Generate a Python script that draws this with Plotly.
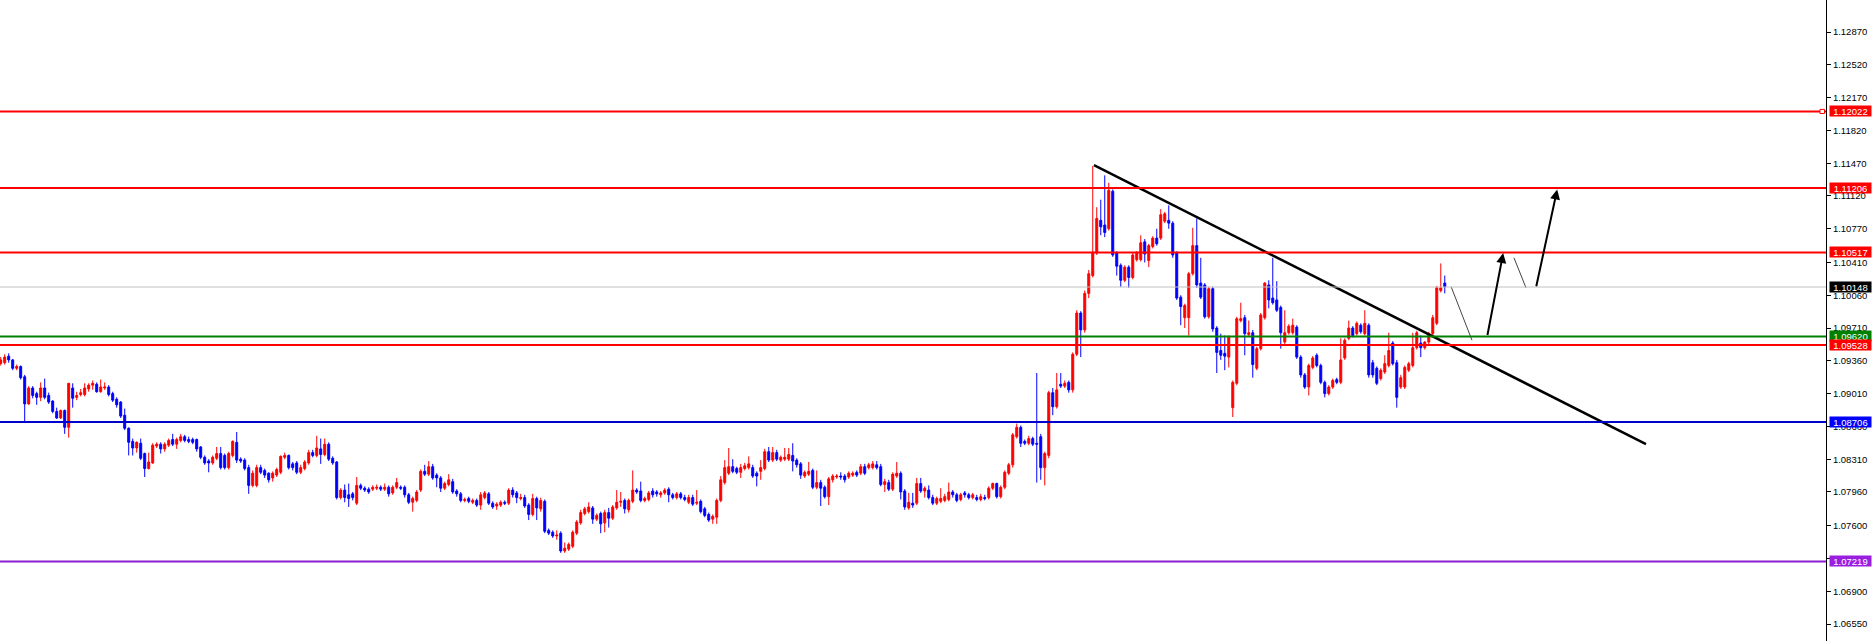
import plotly.graph_objects as go

# ---------------- candle data (EUR/USD style) ----------------
opens = [
1.0933,1.0934,1.0941,1.0937,1.0928,1.0930,1.0919,1.0890,1.0907,1.0901,
1.0897,1.0907,1.0899,1.0893,1.0882,1.0875,1.0883,1.0865,1.0907,1.0897,
1.0900,1.0900,1.0906,1.0910,1.0911,1.0903,1.0907,1.0908,1.0901,1.0895,
1.0892,1.0878,1.0864,1.0850,1.0843,1.0848,1.0837,1.0821,1.0827,1.0845,
1.0847,1.0842,1.0846,1.0852,1.0847,1.0851,1.0855,1.0852,1.0852,1.0852,
1.0844,1.0833,1.0829,1.0827,1.0832,1.0837,1.0835,1.0822,1.0835,1.0849,
1.0831,1.0830,1.0822,1.0803,1.0803,1.0822,1.0819,1.0816,1.0811,1.0814,
1.0817,1.0833,1.0835,1.0826,1.0827,1.0817,1.0821,1.0827,1.0838,1.0835,
1.0842,1.0836,1.0847,1.0832,1.0828,1.0790,1.0798,1.0793,1.0794,1.0784,
1.0803,1.0800,1.0799,1.0799,1.0800,1.0801,1.0799,1.0801,1.0795,1.0801,
1.0801,1.0801,1.0793,1.0785,1.0787,1.0798,1.0818,1.0815,1.0823,1.0814,
1.0811,1.0800,1.0804,1.0807,1.0797,1.0794,1.0787,1.0789,1.0785,1.0787,
1.0782,1.0790,1.0794,1.0784,1.0781,1.0782,1.0785,1.0784,1.0798,1.0795,
1.0789,1.0790,1.0782,1.0772,1.0789,1.0778,1.0786,1.0755,1.0753,1.0749,
1.0752,1.0733,1.0735,1.0738,1.0752,1.0763,1.0773,1.0775,1.0779,1.0767,
1.0773,1.0763,1.0774,1.0768,1.0779,1.0785,1.0787,1.0777,1.0786,1.0798,
1.0797,1.0787,1.0788,1.0797,1.0796,1.0793,1.0795,1.0799,1.0793,1.0790,
1.0794,1.0790,1.0785,1.0790,1.0784,1.0786,1.0778,1.0772,1.0767,1.0769,
1.0787,1.0806,1.0816,1.0823,1.0821,1.0817,1.0821,1.0822,1.0822,1.0816,
1.0818,1.0821,1.0839,1.0830,1.0838,1.0830,1.0831,1.0831,1.0835,1.0830,
1.0826,1.0813,1.0815,1.0819,1.0801,1.0806,1.0801,1.0791,1.0809,1.0812,
1.0813,1.0813,1.0812,1.0814,1.0817,1.0816,1.0823,1.0822,1.0822,1.0825,
1.0823,1.0804,1.0806,1.0799,1.0813,1.0816,1.0797,1.0779,1.0784,1.0784,
1.0805,1.0797,1.0798,1.0790,1.0784,1.0786,1.0787,1.0788,1.0796,1.0793,
1.0788,1.0795,1.0793,1.0790,1.0790,1.0788,1.0790,1.0790,1.0800,1.0805,
1.0791,1.0801,1.0816,1.0825,1.0855,1.0865,1.0850,1.0848,1.0853,1.0848,
1.0855,1.0822,1.0835,1.0902,1.0887,1.0911,1.0909,1.0913,1.0905,1.0943,
1.0987,1.0969,1.1008,1.1027,1.1051,1.1086,1.1081,1.1077,1.1117,1.1051,
1.1038,1.1022,1.1036,1.1025,1.1044,1.1044,1.1063,1.1043,1.1058,1.1067,
1.1067,1.1085,1.1086,1.1083,1.1051,1.1004,1.0982,1.0982,1.1029,1.1059,
1.1019,1.1017,1.0983,1.1013,1.0971,1.0947,1.0944,1.0940,1.0886,1.0912,
1.0979,1.0982,1.0964,1.0966,1.0928,1.0949,1.0982,1.1017,1.1003,1.1001,
1.0993,1.0956,1.0966,1.0966,1.0972,1.0940,1.0921,1.0908,1.0929,1.0942,
1.0931,1.0913,1.0901,1.0908,1.0916,1.0913,1.0939,1.0960,1.0971,1.0965,
1.0974,1.0965,1.0974,1.0934,1.0928,1.0917,1.0924,1.0931,1.0955,1.0934,
1.0908,1.0908,1.0926,1.0931,1.0950,1.0955,1.0950,1.0956,1.0965,1.0976,
1.1011,1.1019]

highs = [
1.0940,1.0943,1.0944,1.0938,1.0932,1.0931,1.0921,1.0909,1.0909,1.0903,
1.0913,1.0917,1.0902,1.0894,1.0886,1.0884,1.0884,1.0912,1.0912,1.0903,
1.0906,1.0912,1.0912,1.0915,1.0913,1.0916,1.0913,1.0910,1.0903,1.0897,
1.0893,1.0885,1.0865,1.0853,1.0850,1.0853,1.0838,1.0838,1.0848,1.0849,
1.0849,1.0849,1.0853,1.0858,1.0854,1.0858,1.0857,1.0855,1.0854,1.0853,
1.0845,1.0835,1.0831,1.0835,1.0844,1.0844,1.0837,1.0839,1.0851,1.0860,
1.0833,1.0832,1.0825,1.0819,1.0825,1.0825,1.0821,1.0817,1.0818,1.0822,
1.0835,1.0838,1.0836,1.0828,1.0829,1.0825,1.0830,1.0841,1.0841,1.0856,
1.0853,1.0853,1.0849,1.0834,1.0829,1.0800,1.0804,1.0805,1.0796,1.0812,
1.0805,1.0802,1.0801,1.0803,1.0804,1.0803,1.0805,1.0803,1.0803,1.0811,
1.0803,1.0803,1.0795,1.0791,1.0798,1.0820,1.0825,1.0829,1.0826,1.0816,
1.0813,1.0807,1.0815,1.0810,1.0799,1.0796,1.0790,1.0791,1.0789,1.0789,
1.0796,1.0797,1.0796,1.0786,1.0785,1.0787,1.0787,1.0800,1.0801,1.0797,
1.0794,1.0793,1.0784,1.0794,1.0791,1.0790,1.0788,1.0757,1.0755,1.0755,
1.0754,1.0742,1.0742,1.0755,1.0766,1.0777,1.0780,1.0785,1.0781,1.0773,
1.0775,1.0777,1.0779,1.0782,1.0798,1.0796,1.0789,1.0789,1.0819,1.0800,
1.0807,1.0791,1.0797,1.0800,1.0798,1.0797,1.0800,1.0801,1.0795,1.0796,
1.0796,1.0793,1.0793,1.0793,1.0798,1.0788,1.0780,1.0774,1.0772,1.0789,
1.0813,1.0830,1.0843,1.0831,1.0823,1.0826,1.0827,1.0834,1.0825,1.0818,
1.0830,1.0842,1.0844,1.0844,1.0841,1.0835,1.0843,1.0843,1.0848,1.0832,
1.0828,1.0819,1.0828,1.0821,1.0819,1.0809,1.0803,1.0812,1.0815,1.0815,
1.0817,1.0815,1.0818,1.0818,1.0819,1.0826,1.0826,1.0827,1.0829,1.0829,
1.0826,1.0810,1.0809,1.0817,1.0828,1.0818,1.0799,1.0795,1.0795,1.0811,
1.0811,1.0802,1.0803,1.0793,1.0791,1.0800,1.0794,1.0806,1.0798,1.0795,
1.0795,1.0797,1.0795,1.0795,1.0793,1.0794,1.0793,1.0802,1.0806,1.0806,
1.0803,1.0819,1.0827,1.0859,1.0869,1.0867,1.0852,1.0856,1.0855,1.0923,
1.0858,1.0839,1.0904,1.0907,1.0923,1.0923,1.0915,1.0915,1.0945,1.0990,
1.0989,1.1011,1.1033,1.1144,1.1100,1.1108,1.1134,1.1126,1.1119,1.1053,
1.1040,1.1038,1.1038,1.1051,1.1053,1.1070,1.1066,1.1061,1.1069,1.1077,
1.1098,1.1095,1.1102,1.1085,1.1053,1.1006,1.0997,1.1031,1.1078,1.1088,
1.1046,1.1019,1.1015,1.1015,1.0973,1.0965,1.0963,1.0963,1.0915,1.0983,
1.0998,1.0985,1.0979,1.0969,1.0951,1.0987,1.1020,1.1022,1.1046,1.1021,
1.0995,1.0990,1.0975,1.0981,1.0974,1.0942,1.0923,1.0933,1.0941,1.0944,
1.0933,1.0915,1.0910,1.0917,1.0918,1.0960,1.0960,1.0979,1.0973,1.0978,
1.0976,1.0990,1.0976,1.0937,1.0930,1.0928,1.0942,1.0966,1.0957,1.0937,
1.0921,1.0931,1.0935,1.0966,1.0968,1.0963,1.0957,1.0967,1.0985,1.1016,
1.1040,1.1027]

lows = [
1.0931,1.0932,1.0934,1.0926,1.0926,1.0916,1.0870,1.0889,1.0896,1.0889,
1.0893,1.0895,1.0890,1.0880,1.0874,1.0874,1.0858,1.0854,1.0886,1.0894,
1.0898,1.0898,1.0903,1.0905,1.0902,1.0902,1.0905,1.0898,1.0892,1.0886,
1.0875,1.0862,1.0835,1.0835,1.0838,1.0830,1.0812,1.0820,1.0826,1.0843,
1.0837,1.0839,1.0844,1.0845,1.0842,1.0849,1.0849,1.0848,1.0847,1.0839,
1.0831,1.0825,1.0817,1.0825,1.0830,1.0820,1.0820,1.0820,1.0833,1.0827,
1.0827,1.0819,1.0794,1.0801,1.0801,1.0815,1.0811,1.0806,1.0807,1.0812,
1.0815,1.0831,1.0820,1.0819,1.0815,1.0815,1.0819,1.0825,1.0833,1.0833,
1.0826,1.0834,1.0829,1.0825,1.0788,1.0788,1.0785,1.0780,1.0787,1.0782,
1.0798,1.0796,1.0794,1.0797,1.0798,1.0797,1.0797,1.0791,1.0793,1.0799,
1.0798,1.0790,1.0783,1.0775,1.0785,1.0796,1.0813,1.0813,1.0809,1.0801,
1.0796,1.0798,1.0802,1.0794,1.0791,1.0785,1.0785,1.0784,1.0783,1.0780,
1.0777,1.0788,1.0782,1.0778,1.0777,1.0780,1.0782,1.0782,1.0790,1.0784,
1.0787,1.0779,1.0766,1.0770,1.0766,1.0775,1.0752,1.0750,1.0747,1.0745,
1.0731,1.0731,1.0733,1.0736,1.0750,1.0761,1.0771,1.0773,1.0762,1.0765,
1.0752,1.0753,1.0758,1.0766,1.0777,1.0780,1.0773,1.0774,1.0784,1.0794,
1.0785,1.0785,1.0786,1.0790,1.0791,1.0790,1.0793,1.0785,1.0788,1.0788,
1.0788,1.0786,1.0783,1.0781,1.0782,1.0773,1.0769,1.0764,1.0762,1.0762,
1.0785,1.0804,1.0814,1.0816,1.0815,1.0811,1.0819,1.0820,1.0811,1.0802,
1.0809,1.0819,1.0828,1.0828,1.0829,1.0828,1.0829,1.0829,1.0818,1.0822,
1.0810,1.0811,1.0813,1.0799,1.0799,1.0781,1.0789,1.0782,1.0806,1.0810,
1.0809,1.0806,1.0810,1.0812,1.0812,1.0814,1.0814,1.0820,1.0820,1.0820,
1.0802,1.0796,1.0797,1.0797,1.0811,1.0788,1.0777,1.0777,1.0779,1.0782,
1.0795,1.0790,1.0788,1.0782,1.0782,1.0784,1.0785,1.0786,1.0790,1.0785,
1.0786,1.0790,1.0788,1.0788,1.0786,1.0786,1.0787,1.0788,1.0798,1.0789,
1.0789,1.0799,1.0814,1.0822,1.0853,1.0844,1.0846,1.0846,1.0845,1.0806,
1.0809,1.0803,1.0832,1.0878,1.0885,1.0907,1.0907,1.0902,1.0902,1.0941,
1.0940,1.0966,1.1003,1.1025,1.1049,1.1070,1.1068,1.1075,1.1047,1.1027,
1.1015,1.1020,1.1014,1.1023,1.1042,1.1042,1.1041,1.1036,1.1056,1.1059,
1.1065,1.1083,1.1077,1.1046,1.1001,1.0974,1.0971,1.0963,1.1027,1.1014,
1.1002,1.0981,1.0981,1.0967,1.0923,1.0937,1.0926,1.0929,1.0876,1.0910,
1.0977,1.0942,1.0962,1.0918,1.0926,1.0947,1.0980,1.0992,1.0996,1.0988,
1.0949,1.0954,1.0964,1.0964,1.0938,1.0918,1.0906,1.0899,1.0927,1.0929,
1.0911,1.0897,1.0899,1.0906,1.0911,1.0911,1.0937,1.0958,1.0961,1.0963,
1.0965,1.0963,1.0918,1.0918,1.0910,1.0915,1.0922,1.0929,1.0931,1.0886,
1.0906,1.0906,1.0924,1.0929,1.0948,1.0940,1.0948,1.0954,1.0963,1.0974,
1.1009,1.1008]

closes = [
1.0937,1.0940,1.0937,1.0928,1.0930,1.0918,1.0890,1.0907,1.0899,1.0897,
1.0907,1.0897,1.0892,1.0882,1.0875,1.0883,1.0865,1.0912,1.0896,1.0899,
1.0902,1.0907,1.0910,1.0912,1.0903,1.0908,1.0908,1.0900,1.0894,1.0889,
1.0877,1.0864,1.0849,1.0843,1.0849,1.0832,1.0821,1.0828,1.0846,1.0847,
1.0842,1.0847,1.0851,1.0847,1.0852,1.0855,1.0851,1.0850,1.0849,1.0842,
1.0833,1.0827,1.0827,1.0833,1.0837,1.0822,1.0822,1.0837,1.0850,1.0830,
1.0829,1.0821,1.0803,1.0816,1.0822,1.0817,1.0814,1.0809,1.0816,1.0820,
1.0834,1.0835,1.0822,1.0822,1.0817,1.0822,1.0828,1.0838,1.0835,1.0843,
1.0836,1.0847,1.0831,1.0827,1.0790,1.0798,1.0790,1.0789,1.0790,1.0803,
1.0800,1.0798,1.0796,1.0801,1.0801,1.0799,1.0801,1.0794,1.0801,1.0806,
1.0800,1.0793,1.0785,1.0789,1.0796,1.0818,1.0815,1.0823,1.0811,1.0811,
1.0800,1.0805,1.0809,1.0796,1.0794,1.0787,1.0788,1.0786,1.0787,1.0782,
1.0793,1.0795,1.0784,1.0780,1.0783,1.0785,1.0784,1.0798,1.0793,1.0790,
1.0790,1.0781,1.0772,1.0789,1.0779,1.0787,1.0754,1.0752,1.0749,1.0750,
1.0733,1.0736,1.0740,1.0753,1.0764,1.0774,1.0778,1.0780,1.0767,1.0771,
1.0762,1.0774,1.0768,1.0780,1.0785,1.0786,1.0778,1.0787,1.0798,1.0796,
1.0787,1.0789,1.0795,1.0793,1.0794,1.0795,1.0798,1.0793,1.0790,1.0794,
1.0790,1.0788,1.0790,1.0783,1.0785,1.0775,1.0771,1.0766,1.0770,1.0787,
1.0809,1.0822,1.0823,1.0818,1.0817,1.0822,1.0824,1.0826,1.0813,1.0813,
1.0822,1.0839,1.0830,1.0838,1.0831,1.0833,1.0833,1.0836,1.0829,1.0825,
1.0814,1.0817,1.0818,1.0801,1.0806,1.0800,1.0791,1.0810,1.0813,1.0813,
1.0812,1.0809,1.0816,1.0816,1.0814,1.0823,1.0816,1.0825,1.0826,1.0822,
1.0804,1.0807,1.0799,1.0815,1.0816,1.0796,1.0780,1.0785,1.0782,1.0805,
1.0797,1.0800,1.0790,1.0784,1.0789,1.0789,1.0791,1.0796,1.0793,1.0787,
1.0793,1.0793,1.0790,1.0793,1.0788,1.0791,1.0789,1.0800,1.0805,1.0791,
1.0801,1.0817,1.0825,1.0857,1.0865,1.0848,1.0848,1.0853,1.0847,1.0847,
1.0822,1.0837,1.0902,1.0887,1.0905,1.0909,1.0912,1.0905,1.0943,1.0987,
1.0969,1.1008,1.1029,1.1052,1.1088,1.1079,1.1073,1.1118,1.1049,1.1037,
1.1022,1.1036,1.1025,1.1049,1.1051,1.1062,1.1050,1.1059,1.1067,1.1061,
1.1092,1.1093,1.1083,1.1049,1.1003,1.0994,1.0995,1.1029,1.1059,1.1017,
1.1004,1.0983,1.1013,1.0970,1.0945,1.0942,1.0941,1.0961,1.0913,1.0981,
1.0981,1.0965,1.0966,1.0932,1.0949,1.0985,1.1019,1.1001,1.0998,1.0990,
1.0966,1.0966,1.0973,1.0974,1.0940,1.0921,1.0908,1.0931,1.0939,1.0931,
1.0913,1.0901,1.0908,1.0915,1.0913,1.0937,1.0958,1.0971,1.0963,1.0976,
1.0967,1.0976,1.0921,1.0921,1.0912,1.0926,1.0933,1.0947,1.0933,1.0897,
1.0918,1.0929,1.0933,1.0950,1.0966,1.0950,1.0956,1.0965,1.0982,1.1014,
1.1014,1.1015]

n_bars = min(len(opens), len(highs), len(lows), len(closes))
bars = list(range(n_bars))

# ---------------- horizontal levels ----------------
level_prices = [1.12022, 1.11206, 1.10517, 1.10148, 1.09620, 1.09528, 1.08706, 1.07219]
level_colors = ["#ff0000", "#ff0000", "#ff0000", "#c0c0c0", "#008000", "#ff0000", "#0000cc", "#8c1ed2"]
level_widths = [2, 2, 2, 1, 2, 2, 2, 2]
label_bg = ["#ff0000", "#ff0000", "#ff0000", "#000000", "#008000", "#ff0000", "#0000ff", "#9a1ee0"]

# ---------------- axis ticks ----------------
tick_values = [1.12870, 1.12520, 1.12170, 1.11820, 1.11470, 1.11120, 1.10770, 1.10410,
               1.10060, 1.09710, 1.09360, 1.09010, 1.08660, 1.08310, 1.07960, 1.07600,
               1.07250, 1.06900, 1.06550]
y_min, y_max = 1.06369, 1.13212

# ---------------- drawn objects ----------------
trend_x = [273.3, 411.3]
trend_y = [1.1145, 1.0847]
move_x = [362.6, 367.8, 371.6, 375.6, 378.3, 381.3, 383.8, 389.1]
move_y = [1.1015, 1.0958, 1.0962, 1.1051, 1.1046, 1.1014, 1.1014, 1.1119]

fig = go.Figure()
fig.add_trace(go.Candlestick(
    x=bars, open=opens[:n_bars], high=highs[:n_bars], low=lows[:n_bars], close=closes[:n_bars],
    increasing=dict(line=dict(color="#ff0000", width=1), fillcolor="#ff0000"),
    decreasing=dict(line=dict(color="#0000ff", width=1), fillcolor="#0000ff"),
    whiskerwidth=0, showlegend=False, hoverinfo="skip"))

fig.add_trace(go.Scatter(x=trend_x, y=trend_y, mode="lines",
                         line=dict(color="#000000", width=2.5), showlegend=False, hoverinfo="skip"))
for a, b in [(0, 1), (4, 5)]:
    fig.add_trace(go.Scatter(x=[move_x[a], move_x[b]], y=[move_y[a], move_y[b]], mode="lines",
                             line=dict(color="#444444", width=1), showlegend=False, hoverinfo="skip"))

shapes = []
for p, c, w in zip(level_prices, level_colors, level_widths):
    shapes.append(dict(type="line", xref="paper", x0=0, x1=1, yref="y", y0=p, y1=p,
                       line=dict(color=c, width=w), layer="above"))
shapes.append(dict(type="rect", xref="paper", x0=1820 / 1826, x1=1824.5 / 1826, yref="y",
                   y0=level_prices[0] - 0.00022, y1=level_prices[0] + 0.00022,
                   line=dict(color="#ff0000", width=1), fillcolor="#ffffff", layer="above"))

annotations = []
for p, bg in zip(level_prices, label_bg):
    annotations.append(dict(xref="paper", x=1, xanchor="left", xshift=3, yref="y", y=p, yanchor="middle",
                            text="%.5f" % p, showarrow=False, bgcolor=bg, width=41, height=10,
                            borderpad=0, align="center",
                            font=dict(family="Liberation Sans, Arial", size=9.5, color="#ffffff")))
for a, b in [(2, 3), (6, 7)]:
    annotations.append(dict(x=move_x[b], y=move_y[b], ax=move_x[a], ay=move_y[a],
                            xref="x", yref="y", axref="x", ayref="y", text="", showarrow=True,
                            arrowhead=2, arrowsize=1, arrowwidth=2, arrowcolor="#000000"))

fig.update_layout(
    width=1874, height=641,
    margin=dict(l=0, r=48, t=0, b=0, pad=0),
    paper_bgcolor="#ffffff", plot_bgcolor="#ffffff",
    shapes=shapes, annotations=annotations,
    boxgap=0.3, showlegend=False,
    xaxis=dict(range=[-0.175, 456.3], visible=False, rangeslider=dict(visible=False), fixedrange=True),
    yaxis=dict(range=[y_min, y_max], side="right", showgrid=False, zeroline=False,
               showline=True, linecolor="#000000", linewidth=1, mirror=False,
               ticks="outside", ticklen=4, tickcolor="#000000",
               tickvals=tick_values, ticktext=["%.5f" % v for v in tick_values],
               tickfont=dict(family="Liberation Sans, Arial", size=9.5, color="#000000"),
               fixedrange=True),
)

fig.write_html("out.html", config={"displayModeBar": False},
               post_script="document.body.style.margin='0';document.body.style.overflow='hidden';")
